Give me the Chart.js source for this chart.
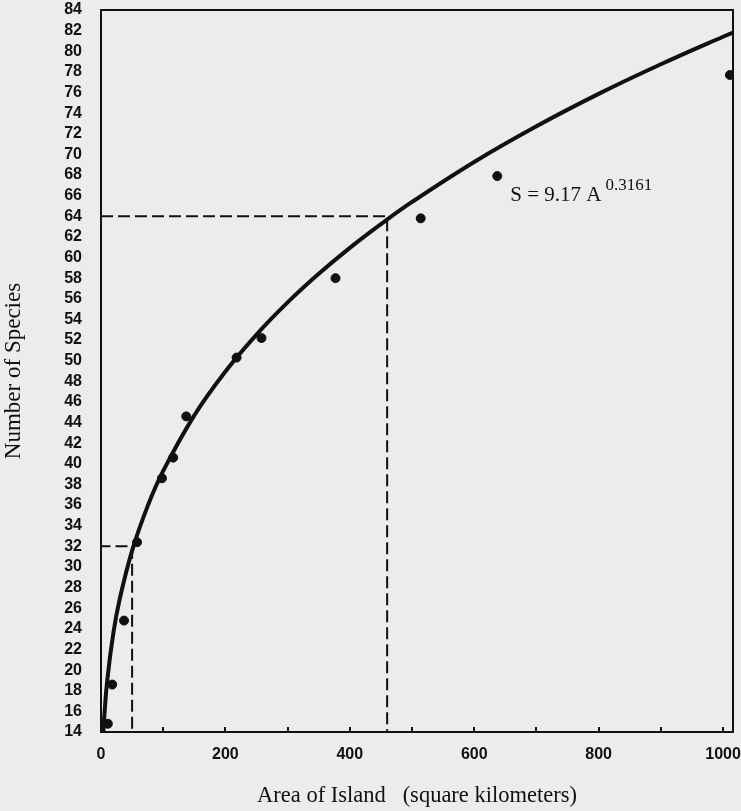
<!DOCTYPE html>
<html>
<head>
<meta charset="utf-8">
<script src="https://cdn.jsdelivr.net/npm/chart.js@4.4.1/dist/chart.umd.min.js"></script>
<style>
  html, body { margin: 0; padding: 0; background: #ececec; }
  #wrap { width: 741px; height: 811px; }
</style>
</head>
<body>
<div id="wrap"><canvas id="speciesChart" width="741" height="811"></canvas></div>
<script>
// island data points
const islandArea = [11, 18, 37, 58, 98, 116, 137, 218, 258, 377, 514, 637, 1011];
const speciesCount = [14.8, 18.6, 24.8, 32.4, 38.6, 40.6, 44.6, 50.3, 52.2, 58.0, 63.8, 67.9, 77.7];

// fitted curve S = 9.17 A^0.3161
const curveArea = [3.8, 5, 10, 20, 30, 50, 75, 100, 150, 200, 250, 300, 350, 400, 450, 500, 600, 700, 800, 900, 1000, 1016];
const curveSpecies = [14, 15.26, 18.99, 23.64, 26.87, 31.58, 35.9, 39.31, 44.7, 48.95, 52.53, 55.65, 58.42, 60.94, 63.24, 65.39, 69.27, 72.73, 75.87, 78.74, 81.41, 81.8];

// dashed guides
const guideBigArea = [0, 460, 460];
const guideBigSpecies = [64, 64, 14];
const guideSmallArea = [-4, 50, 50];
const guideSmallSpecies = [32, 32, 14];

// axis ticks
const xTickValues = [0, 200, 400, 600, 800, 1000];
const xMinorTicks = [100, 200, 300, 400, 500, 600, 700, 800, 900, 1000];
const yTickValues = [];
for (let v = 14; v <= 84; v += 2) yTickValues.push(v);

const toPoints = (xs, ys) => xs.map((x, i) => ({ x: x, y: ys[i] }));

const tickFont = { family: '"Liberation Sans", Arial, sans-serif', size: 16, weight: 'bold' };
const serif = '"Liberation Serif", "Times New Roman", serif';

// frame, inner x ticks and the equation label
const framePlugin = {
  id: 'frame',
  afterDraw(chart) {
    const { ctx, chartArea: a, scales } = chart;
    ctx.save();
    ctx.strokeStyle = '#111';
    ctx.lineWidth = 2;
    ctx.strokeRect(a.left, a.top, a.right - a.left, a.bottom - a.top);
    ctx.beginPath();
    xMinorTicks.forEach(v => {
      const px = Math.round(scales.x.getPixelForValue(v));
      ctx.moveTo(px, a.bottom);
      ctx.lineTo(px, a.bottom - 5);
    });
    ctx.stroke();

    // S = 9.17 A^0.3161
    const ex = scales.x.getPixelForValue(658);
    const ey = scales.y.getPixelForValue(65.5);
    ctx.fillStyle = '#111';
    ctx.textBaseline = 'alphabetic';
    ctx.font = '21px ' + serif;
    const main = 'S = 9.17 A';
    ctx.fillText(main, ex, ey);
    const w = ctx.measureText(main).width;
    ctx.font = '17px ' + serif;
    ctx.fillText('0.3161', ex + w + 4, ey - 11);
    ctx.restore();
  }
};

new Chart(document.getElementById('speciesChart').getContext('2d'), {
  type: 'scatter',
  data: {
    datasets: [
      {
        type: 'line',
        data: toPoints(curveArea, curveSpecies),
        borderColor: '#111',
        borderWidth: 4,
        pointRadius: 0,
        tension: 0.4,
        fill: false
      },
      {
        type: 'line',
        data: toPoints(guideBigArea, guideBigSpecies),
        borderColor: '#111',
        borderWidth: 2,
        borderDash: [12, 5],
        pointRadius: 0,
        tension: 0,
        fill: false
      },
      {
        type: 'line',
        data: toPoints(guideSmallArea, guideSmallSpecies),
        borderColor: '#111',
        borderWidth: 2,
        borderDash: [12, 5],
        pointRadius: 0,
        tension: 0,
        fill: false
      },
      {
        data: toPoints(islandArea, speciesCount),
        backgroundColor: '#111',
        borderColor: '#111',
        pointRadius: 4.5
      }
    ]
  },
  options: {
    responsive: false,
    animation: false,
    layout: { padding: { left: 0, right: 8, top: 10, bottom: 0 } },
    plugins: {
      legend: { display: false },
      tooltip: { enabled: false }
    },
    scales: {
      x: {
        type: 'linear',
        min: 0,
        max: 1016,
        afterBuildTicks: s => { s.ticks = xTickValues.map(v => ({ value: v })); },
        afterFit: s => { s.height = 79; s.paddingLeft = 0; s.paddingRight = 0; },
        grid: { display: false, drawTicks: false },
        border: { display: false },
        ticks: { color: '#111', font: tickFont, padding: 13, maxRotation: 0, callback: v => String(v) },
        title: {
          display: true,
          text: 'Area of Island   (square kilometers)',
          color: '#111',
          font: { family: serif, size: 22.5 },
          padding: { top: 1, bottom: 1 }
        }
      },
      y: {
        min: 14,
        max: 84,
        afterBuildTicks: s => { s.ticks = yTickValues.map(v => ({ value: v })); },
        afterFit: s => { s.width = 101; s.paddingTop = 0; s.paddingBottom = 0; },
        grid: { display: false, drawTicks: false },
        border: { display: false },
        ticks: { color: '#111', font: tickFont, padding: 19, autoSkip: false },
        title: {
          display: true,
          text: 'Number of Species',
          color: '#111',
          font: { family: serif, size: 23 },
          padding: { top: 0, bottom: 0 }
        }
      }
    }
  },
  plugins: [framePlugin]
});
</script>
</body>
</html>
